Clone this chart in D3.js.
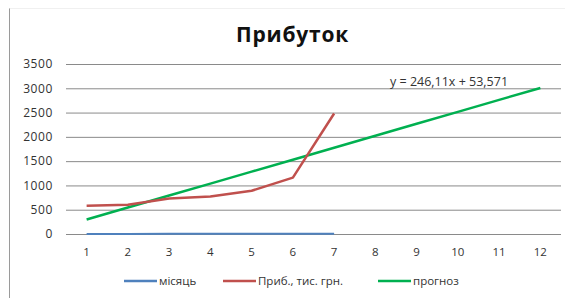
<!DOCTYPE html>
<html><head><meta charset="utf-8">
<script src="https://cdn.jsdelivr.net/npm/d3@7"></script>
<style>body{margin:0;background:#fff}svg{display:block}</style>
</head><body>
<svg id="c" width="565" height="298"></svg>
<script>
const months = [1,2,3,4,5,6,7,8,9,10,11,12];
const monthSeries = [1,2,3,4,5,6,7];
const profit = [580,600,730,770,890,1160,2480];
const forecast = [300,546,792,1038,1284,1530,1776,2022,2269,2515,2761,3007];
const yTicks = [0,500,1000,1500,2000,2500,3000,3500];
const seriesNames = ["місяць","Приб., тис. грн.","прогноз"];
const colors = ["#4F81BD","#C0504D","#00B050"];
const title = "Прибуток";
const equation = "y = 246,11x + 53,571";

const svg = d3.select("#c");
const font = "'Open Sans', sans-serif";
svg.append("line").attr("x1",9.5).attr("x2",9.5).attr("y1",8).attr("y2",298).attr("stroke","#9a9a9a");
svg.append("line").attr("x1",9.5).attr("x2",565).attr("y1",8.5).attr("y2",8.5).attr("stroke","#f0f0f0");

const x = d3.scaleBand().domain(months).range([66,561]);
const y = d3.scaleLinear().domain([0,3500]).range([234,64]);
const cx = d => x(d)+x.bandwidth()/2;

svg.append("text").attr("x",292.5).attr("y",42).attr("text-anchor","middle")
  .attr("font-family",font).attr("font-weight","bold").attr("font-size",21)
  .attr("letter-spacing",0.8).attr("fill","#111").text(title);

const yAxis = svg.append("g").attr("transform","translate(66,0)")
  .call(d3.axisLeft(y).tickValues(yTicks).tickSize(-495).tickPadding(13).tickFormat(d3.format("d")));
yAxis.select(".domain").remove();
yAxis.selectAll("line").attr("stroke","#8a8a8a").attr("stroke-width",1);
yAxis.selectAll("text").attr("font-family",font).attr("font-size",12).attr("letter-spacing",0.6).attr("fill","#333");

const xAxis = svg.append("g").attr("transform","translate(0,234)")
  .call(d3.axisBottom(x).tickSize(0).tickPadding(14));
xAxis.select(".domain").remove();
xAxis.selectAll("text").attr("font-family",font).attr("font-size",11.5).attr("fill","#333");

const line = d3.line().x(d=>cx(d[0])).y(d=>y(d[1]));
const data = [
  monthSeries.map((v,i)=>[months[i],v]),
  profit.map((v,i)=>[months[i],v]),
  forecast.map((v,i)=>[months[i],v])
];
const widths = [2,2.5,2.5];
[2,1,0].forEach(i=>{
  svg.append("path").datum(data[i]).attr("d",line).attr("fill","none")
    .attr("stroke",colors[i]).attr("stroke-width",widths[i]).attr("stroke-linejoin","round");
});

svg.append("text").attr("x",390).attr("y",86).attr("font-family",font).attr("font-size",12.5)
  .attr("fill","#333").text(equation);

const lx = [124,223,378];
seriesNames.forEach((n,i)=>{
  const g = svg.append("g").attr("transform",`translate(${lx[i]},281)`);
  g.append("line").attr("x1",0).attr("x2",33).attr("stroke",colors[i]).attr("stroke-width",2.5);
  g.append("text").attr("x",35).attr("y",4).attr("font-family",font).attr("font-size",11.5)
    .attr("fill","#333").text(n);
});
</script>
</body></html>
